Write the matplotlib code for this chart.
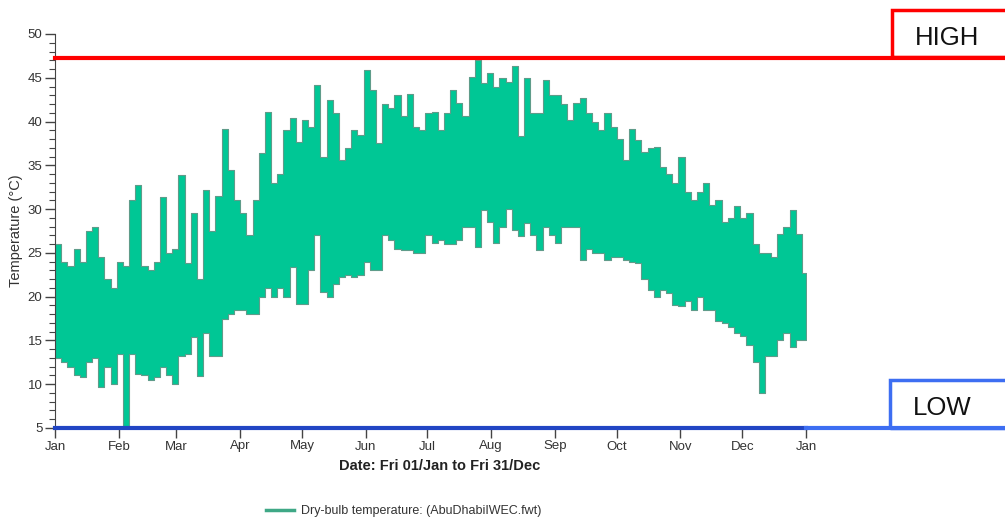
import numpy as np
import matplotlib
matplotlib.use('Agg')
from matplotlib import pyplot as plt
import matplotlib.dates as mdates
from matplotlib.ticker import MultipleLocator
from matplotlib.lines import Line2D
from matplotlib.patches import Rectangle

plt.rcParams['font.family'] = ['Liberation Sans', 'DejaVu Sans']

# dry-bulb envelope (deg C), one max/min pair every 3 days from 1 Jan
day_step = 3
t_max = [
    26, 24, 23.5, 25.5, 24, 27.5, 28, 24.5, 22, 21,
    24, 23.5, 31, 32.7, 23.5, 23, 24, 31.4, 25, 25.5,
    33.9, 23.8, 29.5, 22, 32.2, 27.5, 31.5, 39.2, 34.5, 31,
    29.5, 27, 31, 36.4, 41.1, 33, 34, 39, 40.4, 37.7,
    40.2, 39.4, 44.2, 36, 42.5, 41, 35.6, 37, 39, 38.5,
    45.9, 43.6, 37.5, 42, 41.5, 43, 40.6, 43.2, 39.4, 39,
    41, 41.1, 39, 41, 43.6, 42.1, 40.6, 45.1, 47.0, 44.4,
    45.5, 44, 45, 44.5, 46.3, 38.3, 45, 41, 41, 44.7,
    43, 43, 42, 40.2, 42.1, 42.7, 41, 40, 39, 41,
    39.4, 38, 35.6, 39.2, 37.9, 36.5, 37, 37.1, 34.8, 34,
    33, 36, 32, 31, 32, 33, 30.5, 31, 28.5, 29,
    30.3, 29, 29.5, 26, 25, 25, 24.5, 27.2, 28, 29.9,
    27.2, 22.7,
]
t_min = [
    13, 12.5, 12, 11, 10.8, 12.5, 13, 9.7, 12, 10,
    13.5, 5, 13.5, 11.2, 11, 10.5, 10.8, 12, 11, 10,
    13.2, 13.5, 15.4, 10.9, 15.8, 13.2, 13.2, 17.5, 18, 18.5,
    18.5, 18, 18, 20, 21, 20, 21, 20, 23.4, 19.2,
    19.2, 23, 27, 20.5, 20, 21.5, 22.3, 22.5, 22.3, 22.5,
    24, 23, 23, 27, 26.5, 25.5, 25.3, 25.3, 25, 25,
    27, 26.1, 26.5, 26, 26, 26.5, 28, 28, 25.7, 29.9,
    28.5, 26.1, 28, 30, 27.6, 26.9, 28.4, 27, 25.3, 28,
    27, 26.1, 28, 28, 28, 24.2, 25.5, 25, 25, 24.2,
    24.5, 24.5, 24.2, 24, 23.8, 22, 20.8, 20, 20.8, 20.4,
    19, 18.9, 19.5, 18.5, 20, 18.5, 18.5, 17.2, 17, 16.5,
    15.8, 15.5, 14.5, 12.5, 9, 13.2, 13.2, 15, 15.8, 14.3,
    15, 15,
]
high_temp = 47.3
low_temp = 5.0

start = np.datetime64('2010-01-01')
end = np.datetime64('2011-01-01')
dates = start + np.arange(len(t_max)) * day_step
dates = np.append(dates, end)
upper = np.append(t_max, t_max[-1])
lower = np.append(t_min, t_min[-1])

fig = plt.figure(figsize=(10.05, 5.19), dpi=100)
ax = fig.add_axes([55 / 1005, 1 - 428 / 519, 751 / 1005, 394 / 519])

ax.fill_between(dates, lower, upper, step='post', facecolor='#00c795',
                edgecolor='#5f9c8a', linewidth=0.8, zorder=2)

# threshold lines run past the plot area out to the labels
ax.axhline(high_temp, xmin=0, xmax=1.3, color='#ff0000', lw=3, clip_on=False, zorder=4)
ax.axhline(low_temp, xmin=0, xmax=1, color='#2145c4', lw=3, clip_on=False, zorder=4)
ax.axhline(low_temp, xmin=1, xmax=1.3, color='#3d6ef2', lw=3, clip_on=False, zorder=4)

ax.set_xlim(start, end)
ax.set_ylim(5, 50)
ax.xaxis.set_major_locator(mdates.MonthLocator())
ax.xaxis.set_major_formatter(mdates.DateFormatter('%b'))
ax.yaxis.set_major_locator(MultipleLocator(5))
ax.yaxis.set_minor_locator(MultipleLocator(1))

for side in ('top', 'right'):
    ax.spines[side].set_visible(False)
ax.spines['left'].set_color('#444444')
ax.spines['bottom'].set_color('#444444')
ax.tick_params(which='major', direction='out', length=7, width=1, color='#444444',
               labelsize=9.5, labelcolor='#333333', pad=2)
ax.tick_params(which='minor', direction='out', length=4, width=0.8, color='#444444')

ax.set_ylabel('Temperature (\u00b0C)', fontsize=10.5, color='#333333', labelpad=3)
fig.text(440 / 1005, 1 - 466 / 519, 'Date: Fri 01/Jan to Fri 31/Dec',
         ha='center', va='center', fontsize=10.5, fontweight='bold', color='#222222')

handle = Line2D([], [], color='#3fa886', lw=2.5)
fig.legend([handle], ['Dry-bulb temperature: (AbuDhabiIWEC.fwt)'], loc='center',
           bbox_to_anchor=(404 / 1005, 1 - 511 / 519), frameon=False, fontsize=9,
           handlelength=2.2, handletextpad=0.6, labelcolor='#333333')

fig.add_artist(Rectangle((892 / 1005, 1 - 57 / 519), 0.2, 47 / 519, transform=fig.transFigure,
                         fill=False, edgecolor='#ff0000', lw=2.5))
fig.text(915 / 1005, 1 - 38 / 519, 'HIGH', ha='left', va='center', fontsize=18.5, color='#111111')

fig.add_artist(Rectangle((890 / 1005, 1 - 428 / 519), 0.2, 48 / 519, transform=fig.transFigure,
                         fill=False, edgecolor='#3d6ef2', lw=2.5))
fig.text(913 / 1005, 1 - 408 / 519, 'LOW', ha='left', va='center', fontsize=18.5, color='#111111')

fig.savefig('out.png', dpi=100)
